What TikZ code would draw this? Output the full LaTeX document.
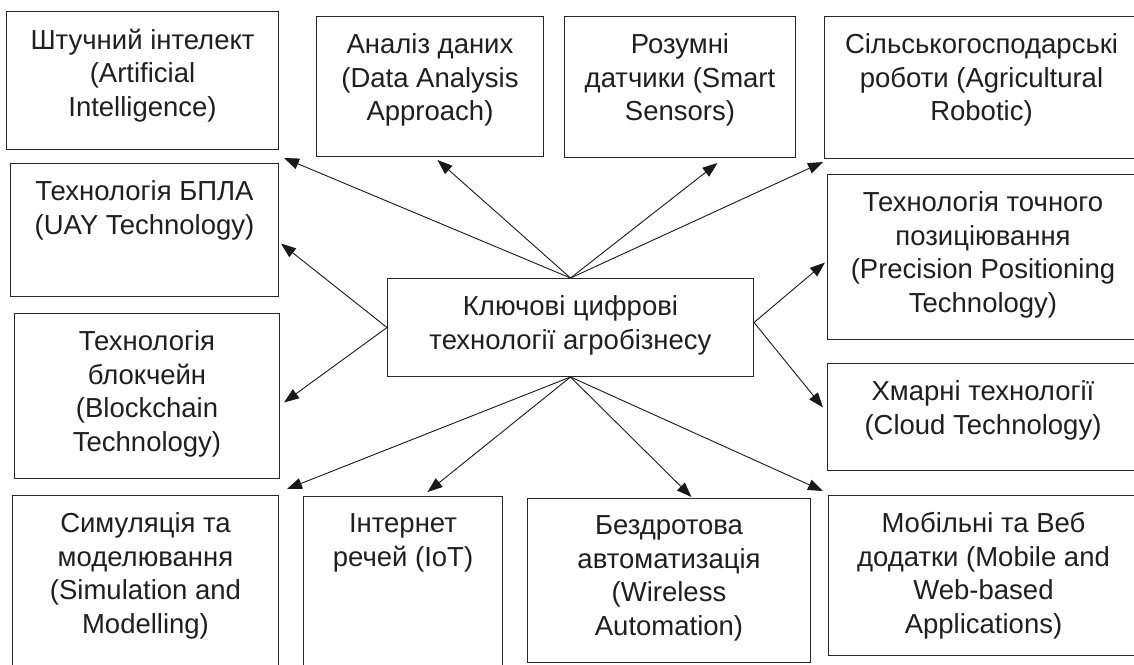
\documentclass[tikz,border=0pt]{standalone}
\usepackage{fontspec}
\setmainfont{Liberation Sans}
\usetikzlibrary{arrows.meta,calc}
\tikzset{
  box/.style={draw=black!85, line width=1pt, inner sep=0pt, anchor=north west},
  lbl/.style={anchor=north, align=center, inner sep=0pt, font=\fontsize{27.5}{33.5}\selectfont, text=black!88},
  conn/.style={draw=black!90, line width=0.9pt, -{Triangle[length=15pt,width=11pt]}},
}
\newcommand{\tbox}[6]{%
  \node[box, minimum width={(#4-#2)*1pt}, minimum height={(#5-#3)*1pt}] (#1) at (#2,#3) {};
  \node[lbl] (#1t) at ($(#1.north)+(0,17.5)$) {#6};
}
\begin{document}
\begin{tikzpicture}[x=1pt,y=-1pt]
\useasboundingbox (0,0) rectangle (1134,664);
\tbox{ai}{6}{11}{278}{149}{Штучний інтелект\\(Artificial\\Intelligence)}
\tbox{data}{316}{16}{543}{156}{Аналіз даних\\(Data Analysis\\Approach)}
\tbox{smart}{564}{16}{795}{157}{Розумні\\датчики (Smart\\Sensors)}
\tbox{agri}{824}{16}{1138}{158}{Сільськогосподарські\\роботи (Agricultural\\Robotic)}
\tbox{uav}{10}{163}{278}{296}{Технологія БПЛА\\(UAY Technology)}
\tbox{chain}{14}{313}{279}{478}{Технологія\\блокчейн\\(Blockchain\\Technology)}
\tbox{center}{387}{278}{753}{376}{Ключові цифрові\\технології агробізнесу}
\tbox{prec}{827}{174}{1138}{339}{Технологія точного\\позиціювання\\(Precision Positioning\\Technology)}
\tbox{cloud}{827}{363}{1138}{470}{Хмарні технології\\(Cloud Technology)}
\tbox{sim}{12}{495}{278}{668}{Симуляція та\\моделювання\\(Simulation and\\Modelling)}
\tbox{iot}{303}{496}{502}{668}{Інтернет\\речей (IoT)}
\tbox{wireless}{527}{498}{810}{662}{Бездротова\\автоматизація\\(Wireless\\Automation)}
\tbox{mobile}{828}{495}{1138}{655}{Мобільні та Веб\\додатки (Mobile and\\Web-based\\Applications)}

\draw[conn] (center.north) -- ($(ai.south east)+(5,8)$);
\draw[conn] (center.north) -- ($(data.south)+(7.5,3)$);
\draw[conn] (center.north) -- ($(smart.south)+(37.5,5)$);
\draw[conn] (center.north) -- ($(agri.south west)+(-1,3)$);
\draw[conn] (center.west) -- ($(uav.east)+(2,13.5)$);
\draw[conn] (center.west) -- ($(chain.east)+(4,6.5)$);
\draw[conn] ($(center.east)+(0,-5)$) -- ($(prec.west)+(-2,5.5)$);
\draw[conn] ($(center.east)+(0,-5)$) -- ($(cloud.west)+(-4,-9.5)$);
\draw[conn] (center.south) -- ($(sim.north east)+(8,-6)$);
\draw[conn] (center.south) -- ($(iot.north)+(24.5,-4)$);
\draw[conn] (center.south) -- ($(wireless.north)+(22.5,-1)$);
\draw[conn] (center.south) -- ($(mobile.north west)+(-5,-4)$);
\end{tikzpicture}
\end{document}
